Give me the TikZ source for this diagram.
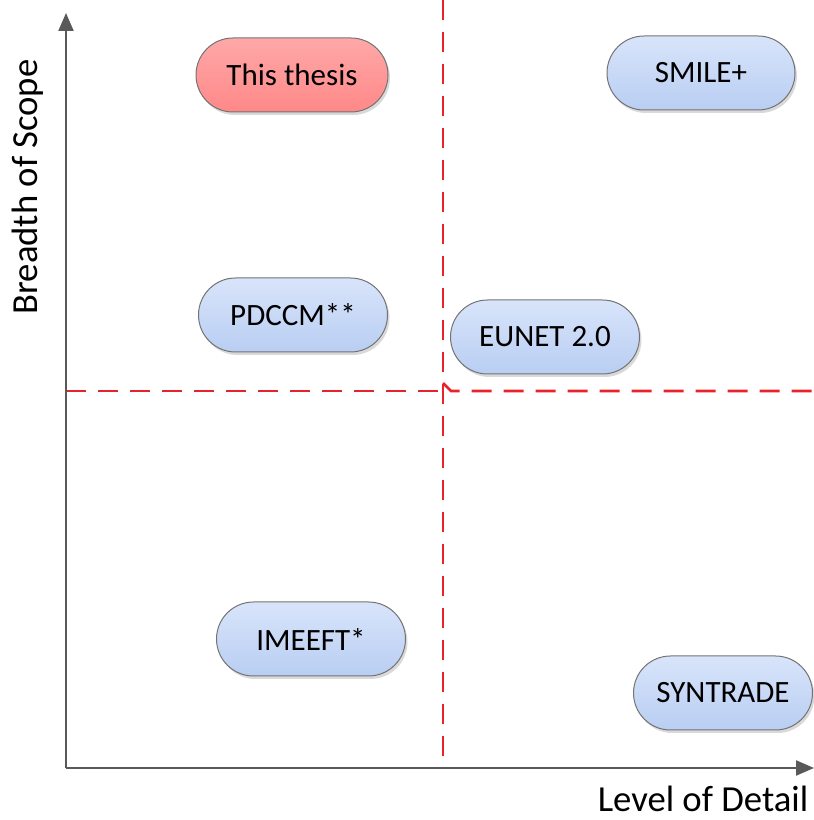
\documentclass[tikz,border=0pt]{standalone}
\usepackage{fontspec}
\setmainfont{Carlito}
\usetikzlibrary{arrows.meta, shapes.misc, shadows}
\definecolor{axisgray}{HTML}{595959}
\definecolor{quadred}{HTML}{E8232B}
\definecolor{pillblueT}{HTML}{D8E4FA}
\definecolor{pillblueB}{HTML}{B9CEF3}
\definecolor{pillredT}{HTML}{FFA8A8}
\definecolor{pillredB}{HTML}{FF8888}
\tikzset{
  axis/.style={-{Triangle[length=18pt,width=15pt]}, line width=2.2pt, draw=axisgray},
  quadline/.style={line width=2.6pt, draw=quadred, dash pattern=on 20pt off 12pt},
  pill/.style={rounded rectangle, draw=black!55, line width=1pt, minimum height=74pt,
    minimum width=189pt, font=\fontsize{31}{36}\selectfont, inner sep=0pt,
    top color=pillblueT, bottom color=pillblueB,
    drop shadow={shadow xshift=2pt, shadow yshift=-3pt, fill=black!25, opacity=0.6}},
  mainpill/.style={pill, top color=pillredT, bottom color=pillredB},
  axislabel/.style={font=\fontsize{36.7}{42}\selectfont, inner sep=0pt}
}

\begin{document}
\begin{tikzpicture}[x=1pt, y=1pt]
\useasboundingbox (0,0) rectangle (814,820);

% quadrant lines
\coordinate (vtop) at (443,820);
\coordinate (vbot) at (443,52);
\coordinate (hleft) at (66,429);
\coordinate (hmid) at (443,429);
\coordinate (hbend) at (443,437);
\coordinate (hknee) at (451,429);
\coordinate (hright) at (814,429);
\draw[quadline] (vtop) -- (vbot);
\draw[quadline] (hleft) -- (hmid);
\draw[quadline] (hbend) -- (hknee) -- (hright);

% axes
\coordinate (origin) at (66,52);
\coordinate (ytip) at (66,807);
\coordinate (xtip) at (814,52);
\draw[axis] (origin) -- (ytip);
\draw[axis] (origin) -- (xtip);
\node[axislabel, rotate=90] (ylab) at (28,633) {Breadth of Scope};
\node[axislabel] (xlab) at (703,21) {Level of Detail};

% approaches
\node[mainpill, minimum width=192pt] (thesis) at (292,745) {This thesis};
\node[pill, minimum width=188pt] (smile) at (701,747) {SMILE+};
\node[pill] (pdccm) at (293,505) {PDCCM**};
\node[pill] (eunet) at (545,483) {EUNET 2.0};
\node[pill] (imeeft) at (311,181) {IMEEFT*};
\node[pill, minimum width=179pt] (syntrade) at (723,127) {SYNTRADE};

\end{tikzpicture}
\end{document}
